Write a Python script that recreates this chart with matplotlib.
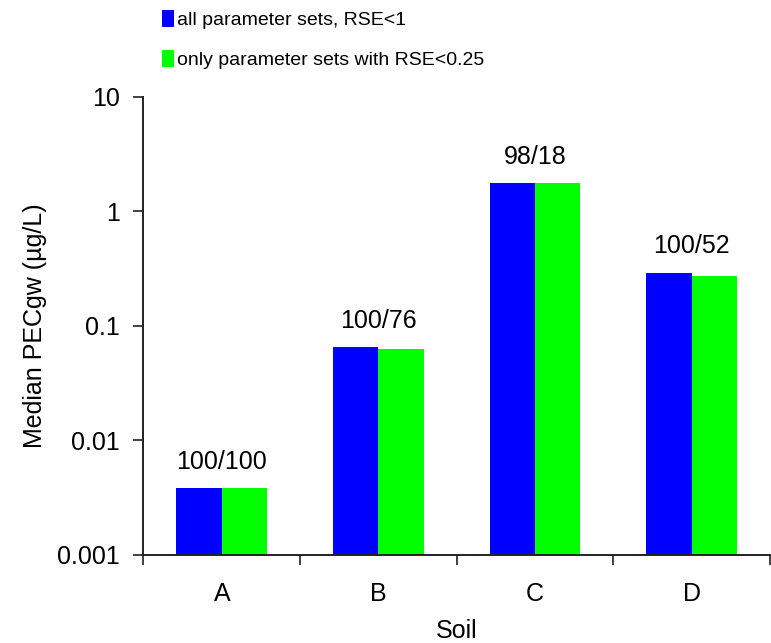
import matplotlib

matplotlib.use("Agg")
import matplotlib.pyplot as plt
import numpy as np
from matplotlib.patches import Patch

plt.rcParams["font.family"] = ["Liberation Sans", "DejaVu Sans"]

# Median PECgw per soil, two parameter-set selections
soils = ["A", "B", "C", "D"]
pec_all = [0.0038, 0.0647, 1.75, 0.291]
pec_rse025 = [0.0038, 0.0622, 1.75, 0.269]
counts = ["100/100", "100/76", "98/18", "100/52"]
series_labels = ["all parameter sets, RSE<1", "only parameter sets with RSE<0.25"]
yticks = [0.001, 0.01, 0.1, 1, 10]
ytick_labels = ["0.001", "0.01", "0.1", "1", "10"]

BLUE = "#0000ff"
GREEN = "#00ff00"
FS = 18

fig = plt.figure(figsize=(7.71, 6.43), dpi=100, facecolor="white")
ax = fig.add_axes([0.1861, 0.1376, 0.8126, 0.712])

x = np.arange(len(soils))
w = 0.29
ax.bar(x - w / 2, pec_all, width=w, color=BLUE, align="center")
ax.bar(x + w / 2, pec_rse025, width=w, color=GREEN, align="center")

ax.set_yscale("log")
ax.set_ylim(0.001, 10)
ax.set_xlim(-0.5, len(soils) - 0.5)

ax.set_yticks(yticks)
ax.set_yticklabels(ytick_labels)
ax.yaxis.set_minor_locator(matplotlib.ticker.NullLocator())
ax.tick_params(axis="y", which="major", direction="out", length=7, width=1.3,
               labelsize=FS, pad=10, color="#333333")

# category boundaries carry the ticks, centres carry the labels
ax.set_xticks(np.arange(len(soils) + 1) - 0.5)
ax.set_xticklabels([])
ax.set_xticks(x, minor=True)
ax.set_xticklabels(soils, minor=True)
ax.tick_params(axis="x", which="major", direction="out", length=7, width=1.3,
               color="#333333")
ax.tick_params(axis="x", which="minor", length=0, labelsize=FS, pad=20)

for side in ("top", "right"):
    ax.spines[side].set_visible(False)
for side in ("left", "bottom"):
    ax.spines[side].set_linewidth(1.4)
    ax.spines[side].set_color("#222222")

for xi, a, b, txt in zip(x, pec_all, pec_rse025, counts):
    ax.annotate(txt, (xi, max(a, b)), xytext=(0, 14), textcoords="offset points",
                ha="center", va="baseline", fontsize=FS)

ax.set_ylabel("Median PECgw (µg/L)", fontsize=FS, labelpad=7)
ax.set_xlabel("Soil", fontsize=FS, labelpad=9)

handles = [Patch(facecolor=BLUE), Patch(facecolor=GREEN)]
fig.legend(handles, series_labels, loc="upper left",
           bbox_to_anchor=(0.205, 0.99), frameon=False, fontsize=14,
           handlelength=0.6, handleheight=0.95, handletextpad=0.2,
           labelspacing=1.05, borderaxespad=0.0, borderpad=0.2)

fig.savefig("out.png", dpi=100, facecolor="white")
